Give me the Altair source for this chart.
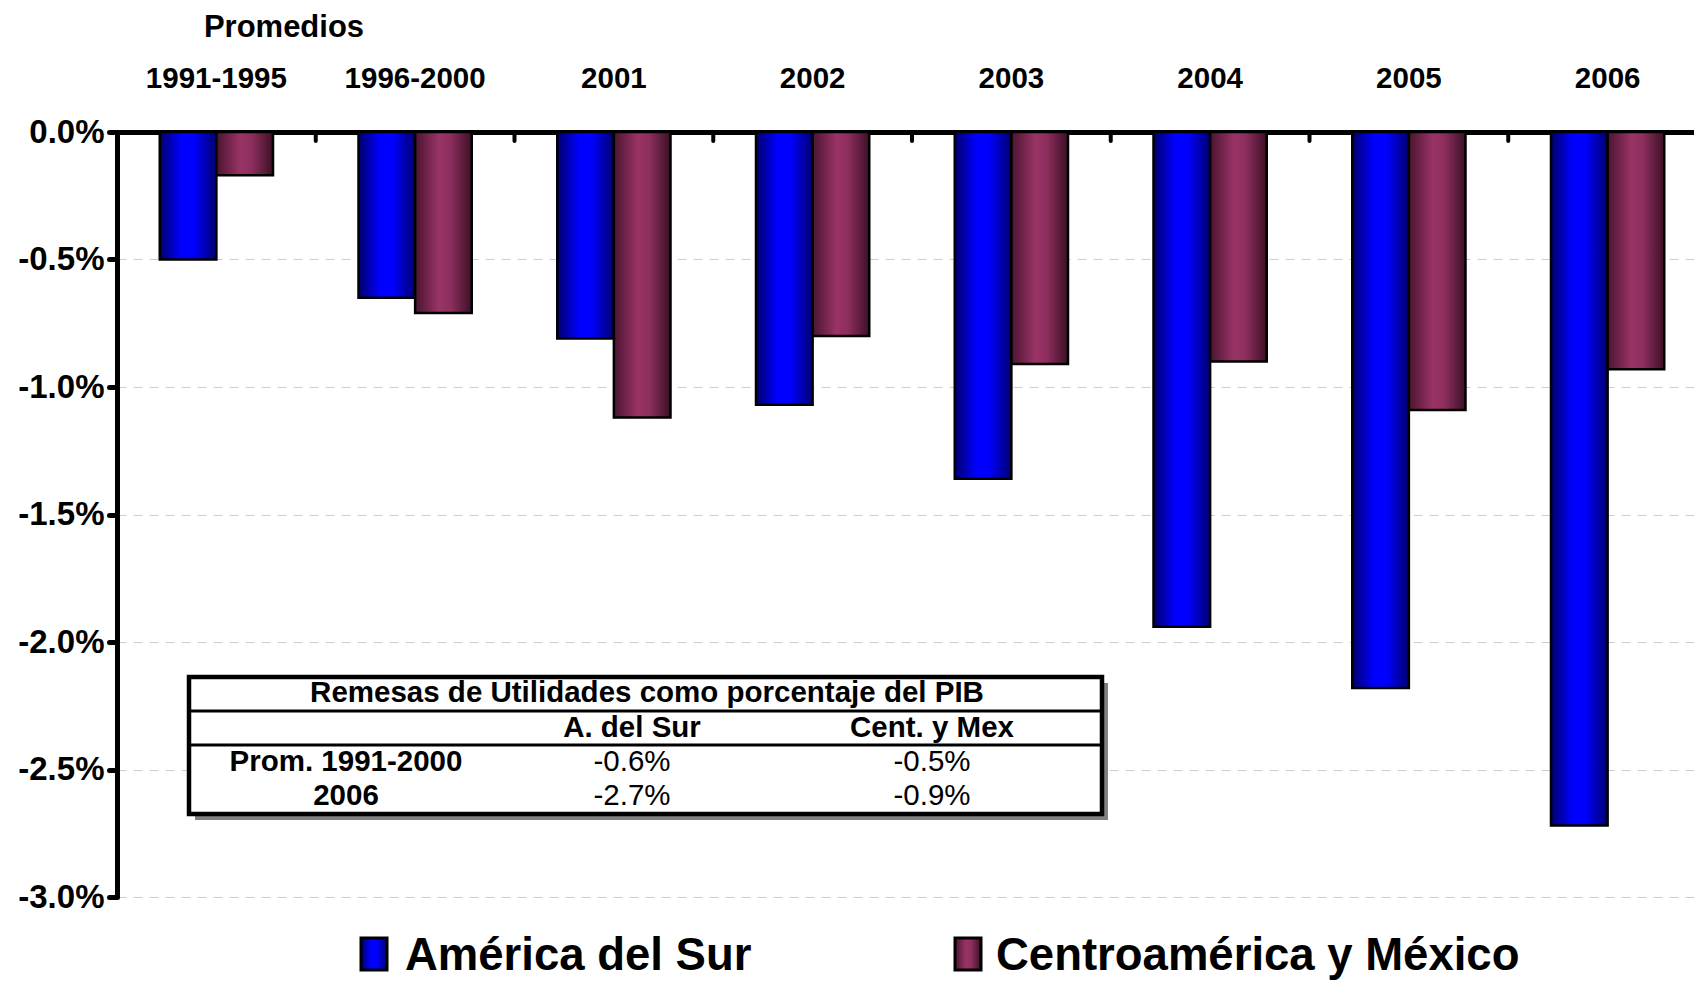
import altair as alt
import pandas as pd

# ---------------- data ----------------
categories = ["1991-1995", "1996-2000", "2001", "2002", "2003", "2004", "2005", "2006"]
america_sur = [-0.50, -0.65, -0.81, -1.07, -1.36, -1.94, -2.18, -2.72]
centro_mex = [-0.17, -0.71, -1.12, -0.80, -0.91, -0.90, -1.09, -0.93]
series_names = ["América del Sur", "Centroamérica y México"]
y_ticks = [0.0, -0.5, -1.0, -1.5, -2.0, -2.5, -3.0]
group_title = "Promedios"

table_title = "Remesas de Utilidades como porcentaje del PIB"
table_cols = ["A. del Sur", "Cent. y Mex"]
table_rows = ["Prom. 1991-2000", "2006"]
table_sur = ["-0.6%", "-2.7%"]
table_cam = ["-0.5%", "-0.9%"]

# ---------------- styles ----------------
ARIAL = "Liberation Sans, Arial, sans-serif"

def grad(stops):
    return alt.LinearGradient(
        gradient="linear", x1=0, x2=1, y1=0, y2=0,
        stops=[alt.GradientStop(color=c, offset=o) for o, c in stops],
    )

blue_grad = grad([(0, "#00006a"), (0.38, "#0000ff"), (0.6, "#0000ff"), (1, "#000070")])
maroon_grad = grad([(0, "#4a1530"), (0.42, "#993366"), (0.62, "#8e2f5e"), (1, "#3c1026")])

df = pd.DataFrame({
    "cat": categories * 2,
    "series": [series_names[0]] * len(categories) + [series_names[1]] * len(categories),
    "value": america_sur + centro_mex,
})

x_scale = alt.Scale(domain=categories, range=[0, 1590], paddingInner=0, paddingOuter=0)
xoff_scale = alt.Scale(domain=series_names, paddingInner=0, paddingOuter=0.755)
y_scale = alt.Scale(domain=[-3, 0], nice=False, zero=False)

x_axis = alt.Axis(
    orient="top", title=None, ticks=False, tickSize=0, grid=False,
    domainColor="black", domainWidth=5,
    labelFont=ARIAL, labelFontWeight="bold", labelFontSize=29.5, labelColor="black",
    labelPadding=45, labelBaseline="alphabetic", labelAngle=0,
)
y_axis = alt.Axis(
    orient="left", values=y_ticks, title=None,
    labelExpr="(datum.value < 0 ? '-' : '') + format(abs(datum.value), '.1f') + '%'",
    labelFont=ARIAL, labelFontWeight="bold", labelFontSize=33, labelColor="black",
    labelPadding=5,
    domainColor="black", domainWidth=5,
    tickColor="black", tickWidth=5, tickSize=8, tickCap="round",
    grid=True, gridColor="#cccccc", gridDash=[9, 7], gridWidth=1.2,
)

base = alt.Chart(df)

bars_sur = base.transform_filter(alt.datum.series == series_names[0]).mark_bar(
    color=blue_grad, stroke="black", strokeWidth=2.5
).encode(
    x=alt.X("cat:N", sort=categories, scale=x_scale, axis=x_axis),
    xOffset=alt.XOffset("series:N", scale=xoff_scale),
    y=alt.Y("value:Q", scale=y_scale, axis=y_axis),
)

bars_cam = base.transform_filter(alt.datum.series == series_names[1]).mark_bar(
    color=maroon_grad, stroke="black", strokeWidth=2.5
).encode(
    x=alt.X("cat:N", sort=categories, scale=x_scale, axis=x_axis),
    xOffset=alt.XOffset("series:N", scale=xoff_scale),
    y=alt.Y("value:Q", scale=y_scale, axis=y_axis),
)

cat_df = pd.DataFrame({"cat": categories[1:]})
ticks = alt.Chart(cat_df).mark_rule(color="black", strokeWidth=4, strokeCap="round").encode(
    x=alt.X("cat:N", sort=categories, bandPosition=0, scale=x_scale, axis=x_axis),
    y=alt.value(1),
    y2=alt.value(9),
)

one = pd.DataFrame({"k": [0]})

def text_at(txt, x, y, size=29.5, weight="bold", align="center", baseline="middle"):
    return alt.Chart(pd.DataFrame({"t": [txt]})).mark_text(
        font=ARIAL, fontSize=size, fontWeight=weight, align=align, baseline=baseline, color="black"
    ).encode(text="t:N", x=alt.value(x), y=alt.value(y))

def rect_at(x, x2, y, y2, **kw):
    return alt.Chart(one).mark_rect(**kw).encode(
        x=alt.value(x), x2=alt.value(x2), y=alt.value(y), y2=alt.value(y2)
    )

def hline(x, x2, y, w=3):
    return alt.Chart(one).mark_rule(color="black", strokeWidth=w).encode(
        x=alt.value(x), x2=alt.value(x2), y=alt.value(y)
    )

promedios = text_at(group_title, 167, -104, size=31)

# table
tx0, tx1, ty0, ty1 = 72, 985, 545, 682
table_layers = [
    rect_at(tx0 + 6, tx1 + 6, ty0 + 6, ty1 + 6, fill="#808080"),
    rect_at(tx0, tx1, ty0, ty1, fill="white", stroke="black", strokeWidth=4.5),
    hline(tx0, tx1, 579),
    hline(tx0, tx1, 613),
    text_at(table_title, 530, 561),
    text_at(table_cols[0], 515, 596),
    text_at(table_cols[1], 815, 596),
    text_at(table_rows[0], 229, 630),
    text_at(table_rows[1], 229, 664),
    text_at(table_sur[0], 515, 630, weight="normal"),
    text_at(table_sur[1], 515, 664, weight="normal"),
    text_at(table_cam[0], 815, 630, weight="normal"),
    text_at(table_cam[1], 815, 664, weight="normal"),
]

# legend
legend_layers = [
    rect_at(244, 270, 806, 838, fill=blue_grad, stroke="black", strokeWidth=3),
    text_at(series_names[0], 288, 838, size=45.5, align="left", baseline="alphabetic"),
    rect_at(838, 864, 806, 838, fill=maroon_grad, stroke="black", strokeWidth=3),
    text_at(series_names[1], 879, 838, size=45.5, align="left", baseline="alphabetic"),
]

chart = alt.layer(
    bars_sur, bars_cam, ticks, promedios, *table_layers, *legend_layers
).properties(
    width=1577, height=765,
    autosize=alt.AutoSizeParams(type="none"),
    padding={"left": 109, "top": 124, "right": 0, "bottom": 83},
    background="white",
).configure_view(stroke=None)

chart.save("out.html", embed_options={"renderer": "svg", "actions": False})
